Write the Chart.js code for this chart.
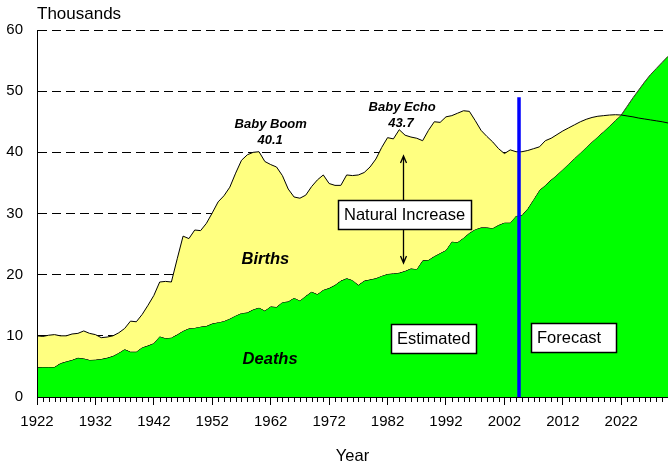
<!DOCTYPE html>
<html>
<head>
<meta charset="utf-8">
<script src="https://cdn.jsdelivr.net/npm/chart.js@4.4.0/dist/chart.umd.min.js"></script>
<style>
  html, body { margin: 0; padding: 0; background: #fff; }
</style>
</head>
<body>
<canvas id="myChart" width="668" height="465"></canvas>
<script>
// years on the x axis
var years = [
  1922, 1923, 1924, 1925, 1926, 1927, 1928, 1929, 1930, 1931,
  1932, 1933, 1934, 1935, 1936, 1937, 1938, 1939, 1940, 1941,
  1942, 1943, 1944, 1945, 1946, 1947, 1948, 1949, 1950, 1951,
  1952, 1953, 1954, 1955, 1956, 1957, 1958, 1959, 1960, 1961,
  1962, 1963, 1964, 1965, 1966, 1967, 1968, 1969, 1970, 1971,
  1972, 1973, 1974, 1975, 1976, 1977, 1978, 1979, 1980, 1981,
  1982, 1983, 1984, 1985, 1986, 1987, 1988, 1989, 1990, 1991,
  1992, 1993, 1994, 1995, 1996, 1997, 1998, 1999, 2000, 2001,
  2002, 2003, 2004, 2005, 2006, 2007, 2008, 2009, 2010, 2011,
  2012, 2013, 2014, 2015, 2016, 2017, 2018, 2019, 2020, 2021,
  2022, 2023, 2024, 2025, 2026, 2027, 2028, 2029, 2030
];
var majorYears = [1922, 1932, 1942, 1952, 1962, 1972, 1982, 1992, 2002, 2012, 2022];

// thousands
var births = [
  10.0,  9.9, 10.1, 10.2, 10.0, 10.0, 10.3, 10.4, 10.8, 10.4,
  10.2,  9.7,  9.8, 10.0, 10.5, 11.2, 12.4, 12.3, 13.5, 15.0,
  16.6, 18.8, 18.9, 18.8, 22.6, 26.3, 25.9, 27.3, 27.2, 28.4,
  30.1, 31.9, 32.9, 34.3, 36.6, 38.7, 39.6, 40.0, 40.1, 38.5,
  38.0, 37.6, 36.2, 34.0, 32.7, 32.5, 33.0, 34.4, 35.5, 36.3,
  34.9, 34.6, 34.6, 36.3, 36.2, 36.3, 36.7, 37.6, 38.9, 40.8,
  42.4, 42.2, 43.7, 42.8, 42.5, 42.3, 41.9, 43.6, 45.0, 44.9,
  45.8, 46.0, 46.4, 46.8, 46.7, 45.2, 43.6, 42.6, 41.7, 40.6,
  39.8, 40.4, 40.1, 40.1, 40.3, 40.6, 40.9, 41.9, 42.3, 42.9,
  43.5, 44.0, 44.5, 45.0, 45.4, 45.7, 45.9, 46.0, 46.1, 46.15,
  46.1, 45.95, 45.8, 45.6, 45.45, 45.3, 45.15, 45.0, 44.8
];
var deaths = [
   4.85, 4.9,  4.9,  4.9,  5.5,  5.8,  6.05, 6.4,  6.3,  6.05,
   6.1,  6.2,  6.4,  6.7,  7.2,  7.8,  7.4,  7.4,  8.1,  8.4,
   8.8,  9.9,  9.6,  9.7, 10.2, 10.8, 11.2, 11.3, 11.5, 11.6,
  12.0, 12.2, 12.4, 12.8, 13.3, 13.7, 13.8, 14.3, 14.6, 14.1,
  14.8, 14.7, 15.5, 15.6, 16.2, 15.75, 16.5, 17.2, 16.8, 17.5,
  17.8, 18.3, 19.0, 19.4, 19.1, 18.3, 19.0, 19.2, 19.4, 19.8,
  20.1, 20.2, 20.3, 20.6, 21.0, 20.9, 22.3, 22.4, 23.0, 23.5,
  24.0, 25.4, 25.3, 26.0, 26.8, 27.4, 27.7, 27.7, 27.6, 28.1,
  28.5, 28.5, 29.6, 29.7, 30.8, 32.3, 33.8, 34.6, 35.5, 36.3,
  37.2, 38.1, 39.0, 39.9, 40.8, 41.7, 42.55, 43.4, 44.3, 45.2,
  46.1, 47.5, 48.9, 50.2, 51.5, 52.7, 53.7, 54.7, 55.7
];

// start of forecast
var forecastYear = 2004.5;
var forecastLineTop = 49;

// text on the plot: [text, year, value, font]
var notes = [
  ['Baby Boom', 1962.0, 44.5, 'bold italic 13px'],
  ['40.1', 1961.9, 42.0, 'bold italic 13px'],
  ['Baby Echo', 1984.5, 47.3, 'bold italic 13px'],
  ['43.7', 1984.3, 44.8, 'bold italic 13px'],
  ['Births', 1961.1, 22.5, 'bold italic 16.5px'],
  ['Deaths', 1961.9, 6.2, 'bold italic 16.5px']
];
// boxed labels: [text, year, value, width]
var boxes = [
  ['Natural Increase', 1984.9, 29.8, 133],
  ['Estimated', 1989.8, 9.5, 85],
  ['Forecast', 2013.8, 9.7, 85]
];
var arrowYear = 1984.7, arrowTop = 39.4, arrowBottom = 21.9;

var FONT = "'Liberation Sans', Arial, sans-serif";
Chart.defaults.font.family = FONT;
Chart.defaults.color = '#000';

function pts(vals) {
  return years.map(function(y, i) { return {x: y, y: vals[i]}; });
}

var extras = {
  id: 'extras',
  afterDatasetsDraw: function(chart) {
    var c = chart.ctx, xs = chart.scales.x, ys = chart.scales.y;
    var area = chart.chartArea;
    c.save();
    // minor ticks, one a year
    c.strokeStyle = '#000';
    c.lineWidth = 1;
    c.beginPath();
    years.forEach(function(yr) {
      if (majorYears.indexOf(yr) >= 0) return;
      var px = Math.round(xs.getPixelForValue(yr)) + 0.5;
      c.moveTo(px, area.bottom);
      c.lineTo(px, area.bottom + 5);
    });
    c.stroke();

    // arrow
    var ax = Math.round(xs.getPixelForValue(arrowYear)) + 0.5;
    var at = ys.getPixelForValue(arrowTop), ab = ys.getPixelForValue(arrowBottom);
    c.lineWidth = 1.3;
    c.beginPath();
    c.moveTo(ax, at); c.lineTo(ax, ab);
    c.moveTo(ax - 3, at + 7); c.lineTo(ax, at); c.lineTo(ax + 3, at + 7);
    c.moveTo(ax - 3, ab - 7); c.lineTo(ax, ab); c.lineTo(ax + 3, ab - 7);
    c.stroke();

    c.fillStyle = '#000';
    c.textAlign = 'center';
    c.textBaseline = 'middle';
    notes.forEach(function(n) {
      c.font = n[3] + ' ' + FONT;
      c.fillText(n[0], xs.getPixelForValue(n[1]), ys.getPixelForValue(n[2]));
    });

    c.font = '16.5px ' + FONT;
    boxes.forEach(function(b) {
      var cx = xs.getPixelForValue(b[1]), cy = ys.getPixelForValue(b[2]);
      var w = b[3], h = 29;
      var x0 = Math.round(cx - w / 2), y0 = Math.round(cy - h / 2);
      c.fillStyle = '#fff';
      c.fillRect(x0, y0, w, h);
      c.strokeStyle = '#000';
      c.lineWidth = 1.5;
      c.strokeRect(x0 + 0.5, y0 + 0.5, w, h);
      c.fillStyle = '#000';
      c.textAlign = 'left';
      c.fillText(b[0], x0 + 6, cy + 1);
    });

    // axis unit
    c.font = '17px ' + FONT;
    c.textAlign = 'left';
    c.fillText('Thousands', area.left, 14);
    c.restore();
  }
};

var ctx = document.getElementById('myChart').getContext('2d');
var myChart = new Chart(ctx, {
  type: 'line',
  data: {
    datasets: [{
      label: 'Births',
      data: pts(births),
      borderColor: '#000',
      borderWidth: 1,
      backgroundColor: '#ffff80',
      pointRadius: 0,
      fill: {target: 1, above: '#ffff80', below: 'rgba(0,0,0,0)'},
      order: 1
    }, {
      label: 'Deaths',
      data: pts(deaths),
      borderColor: '#000',
      borderWidth: 1,
      backgroundColor: '#00ff00',
      pointRadius: 0,
      fill: 'origin',
      order: 2
    }, {
      label: 'Forecast',
      data: [{x: forecastYear, y: 0}, {x: forecastYear, y: forecastLineTop}],
      borderColor: '#0000ff',
      borderWidth: 3.5,
      pointRadius: 0,
      fill: false,
      order: 0
    }]
  },
  options: {
    responsive: false,
    animation: false,
    layout: { padding: { top: 30, right: 0, left: 0, bottom: 0 } },
    plugins: {
      legend: { display: false },
      tooltip: { enabled: false }
    },
    scales: {
      x: {
        type: 'linear',
        min: 1922,
        max: 2030,
        afterBuildTicks: function(s) {
          s.ticks = majorYears.map(function(v) { return {value: v}; });
        },
        afterFit: function(s) { s.height = 68; },
        grid: { drawOnChartArea: false, tickLength: 8, color: '#000', tickColor: '#000' },
        border: { color: '#000', width: 1, z: 1 },
        ticks: {
          autoSkip: false, maxRotation: 0, padding: 8,
          font: { size: 15 },
          callback: function(v) { return String(v); }
        },
        title: {
          display: true, text: 'Year',
          font: { size: 16.5, lineHeight: 1 },
          padding: { top: 0, bottom: 0 }
        }
      },
      y: {
        min: 0,
        max: 60,
        afterFit: function(s) { s.width = 37; },
        ticks: { stepSize: 10, padding: 14, font: { size: 15 } },
        grid: { color: '#000', drawTicks: false, lineWidth: 1 },
        border: { color: '#000', width: 1, dash: [9, 5], z: 1 }
      }
    }
  },
  plugins: [extras]
});
</script>
</body>
</html>
